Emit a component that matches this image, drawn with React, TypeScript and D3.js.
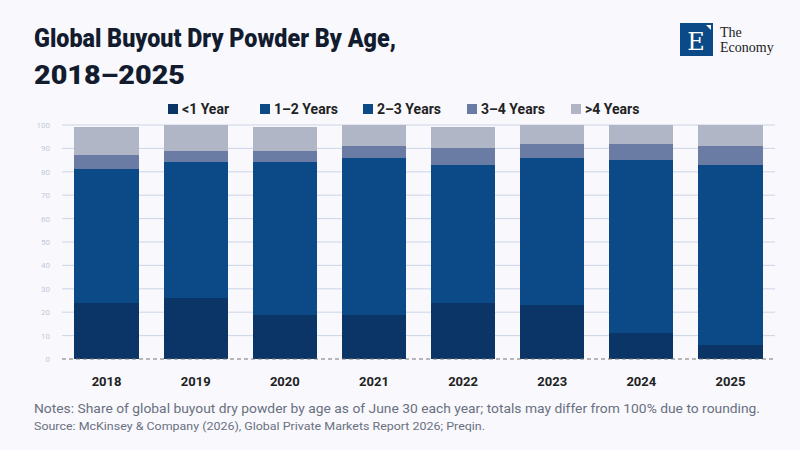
import React from 'react';
import * as d3 from 'd3';

const years = ['2018', '2019', '2020', '2021', '2022', '2023', '2024', '2025'];
const lessOne = [24, 26, 19, 19, 24, 23, 11, 6];
const oneTwo = [31, 30, 37, 37, 30, 35, 45, 44];
const twoThree = [26, 28, 28, 30, 29, 28, 29, 33];
const threeFour = [6, 5, 5, 5, 7, 6, 7, 8];
const overFour = [12, 11, 10, 9, 9, 8, 8, 9];
const seriesNames = ['<1 Year', '1–2 Years', '2–3 Years', '3–4 Years', '>4 Years'];
const colors = ['#0b3566', '#0c4a87', '#0c4a87', '#6a7ca3', '#b0b6c6'];
const yTicks = [0, 10, 20, 30, 40, 50, 60, 70, 80, 90, 100];

const W = 800, H = 450;
const m = { left: 62, right: 25, top: 125, bottom: 91 };
const font = 'Roboto, "Noto Sans", sans-serif';

export default function App() {
  const x = d3.scaleBand().domain(years).range([m.left, W - m.right]).paddingInner(0.28).paddingOuter(0.14);
  const y = d3.scaleLinear().domain([0, 100]).range([H - m.bottom, m.top]);
  const rows = years.map((yr, i) => ({
    year: yr, s0: lessOne[i], s1: oneTwo[i], s2: twoThree[i], s3: threeFour[i], s4: overFour[i],
  }));
  const stack = d3.stack<any>().keys(['s0', 's1', 's2', 's3', 's4'])(rows);
  const legendX = [168, 260, 363, 467, 571];

  return (
    <svg width={W} height={H} style={{ position: 'absolute', left: 0, top: 0, background: '#f8f8fd' }}>
      <rect width={W} height={H} fill="#f8f8fd" />
      <text x={34} y={47} fontFamily={font} fontWeight={900} fontSize={26} fill="#121c2e" textLength={362} lengthAdjust="spacingAndGlyphs">Global Buyout Dry Powder By Age,</text>
      <text x={34} y={84} fontFamily={font} fontWeight={900} fontSize={26} fill="#121c2e" textLength={151} lengthAdjust="spacingAndGlyphs">2018–2025</text>
      <rect x={680} y={23} width={33} height={33} fill="#0c4a87" />
      <text x={696} y={50} textAnchor="middle" fontFamily="'DejaVu Serif', serif" fontSize={24} fill="#fff">E</text>
      <polygon points="706,25 711,25 711,30" fill="#fff" />
      <text x={720} y={37} fontFamily="'Liberation Serif', serif" fontSize={14} fill="#222">The</text>
      <text x={720} y={52} fontFamily="'Liberation Serif', serif" fontSize={14} fill="#222">Economy</text>
      {seriesNames.map((n, i) => (
        <g key={n}>
          <rect x={legendX[i]} y={104} width={10} height={10} fill={colors[i]} />
          <text x={legendX[i] + 14} y={114} fontFamily={font} fontWeight={700} fontSize={14} fill="#222">{n}</text>
        </g>
      ))}
      {yTicks.map(t => (
        <g key={t}>
          {t > 0 && <line x1={m.left} x2={W - m.right} y1={y(t)} y2={y(t)} stroke="#ccd5e6" strokeWidth={1} />}
          <text x={m.left - 12} y={y(t) + 3} textAnchor="end" fontFamily={font} fontSize={8} fill="#c4cad8">{t}</text>
        </g>
      ))}
      {stack.map((layer, k) => layer.map((d, i) => (
        <rect key={k + '-' + i} x={x(years[i])} width={x.bandwidth()} y={Math.round(y(d[1]))} height={Math.round(y(d[0])) - Math.round(y(d[1]))} fill={colors[k]} shapeRendering="crispEdges" />
      )))}
      <line x1={m.left} x2={W - m.right} y1={y(0)} y2={y(0)} stroke="#777" strokeDasharray="4,3" />
      {years.map(yr => (
        <text key={yr} x={x(yr)! + x.bandwidth() / 2} y={386} textAnchor="middle" fontFamily={font} fontWeight={700} fontSize={13} fill="#222">{yr}</text>
      ))}
      <text x={34} y={413} fontFamily={font} fontSize={13} fill="#6a7080" textLength={726} lengthAdjust="spacingAndGlyphs">Notes: Share of global buyout dry powder by age as of June 30 each year; totals may differ from 100% due to rounding.</text>
      <text x={34} y={430} fontFamily={font} fontSize={11} fill="#6a7080" textLength={451} lengthAdjust="spacingAndGlyphs">Source: McKinsey &amp; Company (2026), Global Private Markets Report 2026; Preqin.</text>
    </svg>
  );
}
